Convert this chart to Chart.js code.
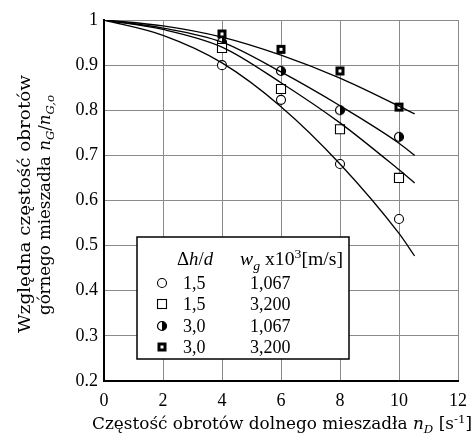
<!DOCTYPE html>
<html>
<head>
<meta charset="utf-8">
<script src="https://cdn.jsdelivr.net/npm/chart.js@4"></script>
<style>
  body { margin: 0; background: #fff; }
</style>
</head>
<body>
<canvas id="chart" width="476" height="438"></canvas>
<script>
// measured points
const measX = [4, 6, 8, 10];
const circOpen = [0.900, 0.823, 0.681, 0.559];
const sqOpen = [0.938, 0.847, 0.758, 0.650];
const circHalf = [0.951, 0.887, 0.800, 0.741];
const sqFill = [0.969, 0.935, 0.887, 0.807];

// fitted curves
const curveX = [0, 2, 4, 6, 8, 10, 10.53];
const curveCircOpen = [1, 0.966, 0.905, 0.808, 0.681, 0.527, 0.477];
const curveSqOpen = [1, 0.979, 0.940, 0.861, 0.772, 0.668, 0.639];
const curveCircHalf = [1, 0.982, 0.951, 0.885, 0.810, 0.727, 0.700];
const curveSqFill = [1, 0.987, 0.962, 0.922, 0.871, 0.809, 0.792];

const xTicks = [0, 2, 4, 6, 8, 10, 12];
const yTicks = [0.2, 0.3, 0.4, 0.5, 0.6, 0.7, 0.8, 0.9, 1];

const FONT = '"Liberation Serif", "Times New Roman", serif';
const TFONT = '"DejaVu Serif", serif';

function pts(xs, ys) {
  return xs.map((x, i) => ({x: x, y: ys[i]}));
}

// marker pictures
function mkCanvas(size) {
  const c = document.createElement('canvas');
  c.width = size; c.height = size;
  return c;
}
function halfCircle() {
  const c = mkCanvas(12), g = c.getContext('2d');
  g.beginPath(); g.arc(6, 6, 4.5, 0, Math.PI * 2);
  g.fillStyle = '#fff'; g.fill();
  g.beginPath(); g.arc(6, 6, 4.5, -Math.PI / 2, Math.PI / 2);
  g.closePath(); g.fillStyle = '#000'; g.fill();
  g.beginPath(); g.arc(6, 6, 4.5, 0, Math.PI * 2);
  g.lineWidth = 1.2; g.strokeStyle = '#000'; g.stroke();
  return c;
}
function fillSquare() {
  const c = mkCanvas(11), g = c.getContext('2d');
  g.fillStyle = '#000'; g.fillRect(1, 1, 9, 9);
  g.fillStyle = '#fff'; g.fillRect(4, 4, 3, 3);
  return c;
}
const halfImg = halfCircle();
const sqFillImg = fillSquare();

function scatterSet(data, style, radius) {
  return {
    data: data, showLine: false, pointStyle: style, pointRadius: radius,
    pointBackgroundColor: '#fff', pointBorderColor: '#000', pointBorderWidth: 1.1
  };
}
function curveSet(data) {
  return {
    data: data, showLine: true, pointRadius: 0, borderColor: '#000',
    borderWidth: 1.3, cubicInterpolationMode: 'monotone', fill: false
  };
}

// rich text: [{t, it, sub, sup}]
function richWidth(ctx, segs, size, fam) {
  let w = 0;
  segs.forEach(s => {
    const fs = (s.sub || s.sup) ? size * 0.7 : size;
    ctx.font = (s.it ? 'italic ' : '') + fs + 'px ' + fam;
    w += ctx.measureText(s.t).width;
  });
  return w;
}
// draws text starting at x (or centred), squeezed/stretched to width w if given
function drawRich(ctx, segs, x, y, size, opts) {
  opts = opts || {};
  const fam = opts.fam || FONT;
  const nat = richWidth(ctx, segs, size, fam);
  const k = opts.w ? opts.w / nat : 1;
  let x0 = opts.center ? x - nat * k / 2 : x;
  ctx.save();
  ctx.translate(x0, y);
  ctx.scale(k, 1);
  ctx.textBaseline = 'alphabetic';
  ctx.textAlign = 'left';
  ctx.fillStyle = '#000';
  let cx = 0;
  segs.forEach(s => {
    const fs = (s.sub || s.sup) ? size * 0.7 : size;
    ctx.font = (s.it ? 'italic ' : '') + fs + 'px ' + fam;
    let dy = 0;
    if (s.sub) dy = size * 0.25;
    if (s.sup) dy = -size * 0.4;
    ctx.fillText(s.t, cx, dy);
    cx += ctx.measureText(s.t).width;
  });
  ctx.restore();
}

const yTitle1 = [{t: 'Względna częstość obrotów'}];
const yTitle2 = [{t: 'górnego mieszadła '}, {t: 'n', it: true}, {t: 'G', it: true, sub: true},
  {t: '/'}, {t: 'n', it: true}, {t: 'G,o', it: true, sub: true}];
const xTitle = [{t: 'Częstość obrotów dolnego mieszadła '}, {t: 'n', it: true},
  {t: 'D', it: true, sub: true}, {t: ' [s'}, {t: '-1', sup: true}, {t: ']'}];

const legendRows = [
  {m: 'circle', a: '1,5', b: '1,067'},
  {m: 'square', a: '1,5', b: '3,200'},
  {m: 'half', a: '3,0', b: '1,067'},
  {m: 'fill', a: '3,0', b: '3,200'}
];

const extras = {
  id: 'extras',
  afterDraw(chart) {
    const ctx = chart.ctx;
    ctx.save();
    // axis titles
    drawRich(ctx, xTitle, 92, 429, 16, {fam: TFONT, w: 380});
    ctx.save();
    ctx.translate(30, 333); ctx.rotate(-Math.PI / 2);
    drawRich(ctx, yTitle1, 0, 0, 16, {fam: TFONT, w: 258});
    ctx.restore();
    ctx.save();
    ctx.translate(50, 315); ctx.rotate(-Math.PI / 2);
    drawRich(ctx, yTitle2, 0, 0, 16, {fam: TFONT, w: 220});
    ctx.restore();

    // legend box
    ctx.fillStyle = '#fff';
    ctx.fillRect(137, 237, 212, 122);
    ctx.strokeStyle = '#000'; ctx.lineWidth = 1.5;
    ctx.strokeRect(137, 237, 212, 122);
    drawRich(ctx, [{t: 'Δ'}, {t: 'h', it: true}, {t: '/'}, {t: 'd', it: true}], 177, 265, 18, {w: 36});
    drawRich(ctx, [{t: 'w', it: true}, {t: 'g', it: true, sub: true}, {t: ' x10'}, {t: '3', sup: true}, {t: '[m/s]'}], 240, 265, 18, {w: 103});
    const base = [289, 310, 332, 353];
    legendRows.forEach((r, i) => {
      const by = base[i], my = by - 6, mx = 162;
      ctx.lineWidth = 1.1; ctx.strokeStyle = '#000';
      if (r.m === 'circle') {
        ctx.beginPath(); ctx.arc(mx, my, 4.5, 0, Math.PI * 2);
        ctx.fillStyle = '#fff'; ctx.fill(); ctx.stroke();
      } else if (r.m === 'square') {
        ctx.fillStyle = '#fff';
        ctx.fillRect(mx - 4.5, my - 4.5, 9, 9); ctx.strokeRect(mx - 4.5, my - 4.5, 9, 9);
      } else if (r.m === 'half') {
        ctx.drawImage(halfImg, mx - 6, my - 6);
      } else {
        ctx.drawImage(sqFillImg, mx - 5.5, my - 5.5);
      }
      drawRich(ctx, [{t: r.a}], 183, by, 18);
      drawRich(ctx, [{t: r.b}], 250, by, 18);
    });
    ctx.restore();
  }
};

new Chart(document.getElementById('chart'), {
  type: 'scatter',
  data: {
    datasets: [
      curveSet(pts(curveX, curveCircOpen)),
      curveSet(pts(curveX, curveSqOpen)),
      curveSet(pts(curveX, curveCircHalf)),
      curveSet(pts(curveX, curveSqFill)),
      scatterSet(pts(measX, circOpen), 'circle', 4.5),
      scatterSet(pts(measX, sqOpen), 'rect', 6.4),
      scatterSet(pts(measX, circHalf), halfImg, 5),
      scatterSet(pts(measX, sqFill), sqFillImg, 5)
    ]
  },
  options: {
    responsive: false,
    animation: false,
    layout: {padding: {left: 0, right: 12, top: 20, bottom: 0}},
    plugins: {legend: {display: false}, tooltip: {enabled: false}},
    scales: {
      x: {
        type: 'linear', min: 0, max: 12,
        afterBuildTicks: s => { s.ticks = xTicks.map(v => ({value: v})); },
        afterFit: s => { s.height = 57; },
        grid: {color: '#8a8a8a', lineWidth: 1, drawTicks: false},
        border: {color: '#000', width: 2},
        ticks: {padding: 9, color: '#000', font: {family: FONT, size: 18}, maxRotation: 0,
          callback: v => String(v)}
      },
      y: {
        type: 'linear', min: 0.2, max: 1,
        afterBuildTicks: s => { s.ticks = yTicks.map(v => ({value: v})); },
        afterFit: s => { s.width = 104; },
        grid: {color: '#8a8a8a', lineWidth: 1, drawTicks: false},
        border: {color: '#000', width: 2},
        ticks: {padding: 6, color: '#000', font: {family: FONT, size: 18},
          callback: v => String(Number(v.toFixed(1)))}
      }
    }
  },
  plugins: [extras]
});
</script>
</body>
</html>
